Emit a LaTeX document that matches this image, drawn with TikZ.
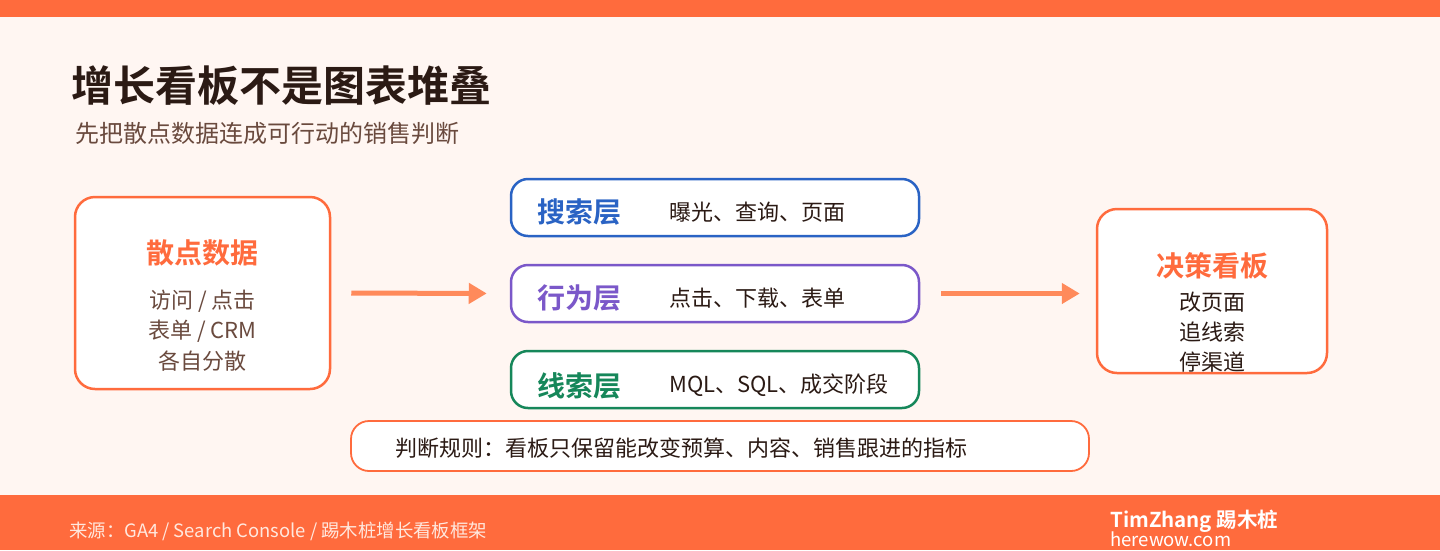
\documentclass[tikz,border=0pt]{standalone}
\usepackage{fontspec}
\setmainfont{Noto Sans CJK SC}[BoldFont={Noto Sans CJK SC Bold}]
\usepackage{xcolor}
\usetikzlibrary{arrows.meta,positioning}
\definecolor{bgpink}{HTML}{FFF6F2}
\definecolor{brandorange}{HTML}{FF6B3D}
\definecolor{arroworange}{HTML}{FF8A5B}
\definecolor{inkdark}{HTML}{2B1A14}
\definecolor{inkbrown}{HTML}{6A4A3E}
\definecolor{searchblue}{HTML}{2A63C4}
\definecolor{behavepurple}{HTML}{7B58C9}
\definecolor{leadgreen}{HTML}{16875A}
\definecolor{footink}{HTML}{FFE8DE}

\begin{document}
\begin{tikzpicture}[
  x=1pt, y=-1pt,
  card/.style={rectangle, draw=brandorange, line width=2.5pt, fill=white, rounded corners=20pt, inner sep=0pt},
  layer/.style={rectangle, fill=white, line width=2.5pt, rounded corners=17pt, minimum width=408pt, minimum height=57pt, inner sep=0pt},
  txt/.style={inner sep=0pt},
  head/.style={txt, font=\bfseries\fontsize{28}{32}\selectfont},
  body/.style={txt, font=\fontsize{22}{26}\selectfont},
  arr/.style={-{Triangle[length=18pt,width=20pt]}, line width=5pt, arroworange}
]
\useasboundingbox (0,0) rectangle (1440,550);
% background and bars
\fill[bgpink] (0,0) rectangle (1440,550);
\fill[brandorange] (0,0) rectangle (1440,17);
\fill[brandorange] (0,495) rectangle (1440,550);
% heading
\node[txt, anchor=west, inkdark, font=\bfseries\fontsize{42}{48}\selectfont] (title) at (71,86) {增长看板不是图表堆叠};
\node[txt, anchor=west, inkbrown, font=\fontsize{24}{28}\selectfont] (subtitle) at (75,133) {先把散点数据连成可行动的销售判断};
% scattered data
\node[card, minimum width=255pt, minimum height=192pt] (scatter) at (202.5,293) {};
\node[head, brandorange] (scattertitle) at (202.5,253) {散点数据};
\node[body, inkbrown] (scatterone) at (202.5,301) {访问 / 点击};
\node[body, inkbrown] (scattertwo) at (202.5,331) {表单 / CRM};
\node[body, inkbrown] (scatterthree) at (202.5,361) {各自分散};
% layers
\node[layer, draw=searchblue] (search) at (715,207.5) {};
\node[head, searchblue, anchor=west] (searchname) at (537,212.5) {搜索层};
\node[body, inkdark, anchor=west] (searchitems) at (669,212.5) {曝光、查询、页面};
\node[layer, draw=behavepurple] (behavior) at (715,293.5) {};
\node[head, behavepurple, anchor=west] (behaviorname) at (537,298.5) {行为层};
\node[body, inkdark, anchor=west] (behavioritems) at (669,298.5) {点击、下载、表单};
\node[layer, draw=leadgreen] (leads) at (715,379.5) {};
\node[head, leadgreen, anchor=west] (leadsname) at (537,385.5) {线索层};
\node[body, inkdark, anchor=west] (leadsitems) at (669,385.5) {MQL、SQL、成交阶段};
% decision board
\node[card, minimum width=230pt, minimum height=164pt] (decision) at (1212,291) {};
\node[head, brandorange] (decisiontitle) at (1212,265.5) {决策看板};
\node[body, inkdark] (decisionone) at (1212,302.5) {改页面};
\node[body, inkdark] (decisiontwo) at (1212,332) {追线索};
\node[body, inkdark] (decisionthree) at (1212,362) {停渠道};
% rule
\node[card, line width=1.8pt, rounded corners=18pt, minimum width=738pt, minimum height=50pt] (rule) at (720,446) {};
\node[body, inkdark, anchor=west] (ruletext) at (395,448) {判断规则：看板只保留能改变预算、内容、销售跟进的指标};
% arrows
\draw[arr, shorten <=20pt, shorten >=23pt] (scatter.east) -- (behavior.west);
\draw[arr, shorten <=21pt, shorten >=16pt] (behavior.east) -- (behavior.east -| decision.west);
% footer
\node[txt, anchor=west, footink, font=\fontsize{18.4}{21}\selectfont] (source) at (69,531) {来源：GA4 / Search Console / 踢木桩增长看板框架};
\node[txt, anchor=west, white, font=\bfseries\fontsize{20.5}{23}\selectfont] (brand) at (1110,521) {TimZhang 踢木桩};
\node[txt, anchor=west, white, font=\fontsize{18.5}{22}\selectfont] (site) at (1110,539) {herewow.com};
\end{tikzpicture}
\end{document}
